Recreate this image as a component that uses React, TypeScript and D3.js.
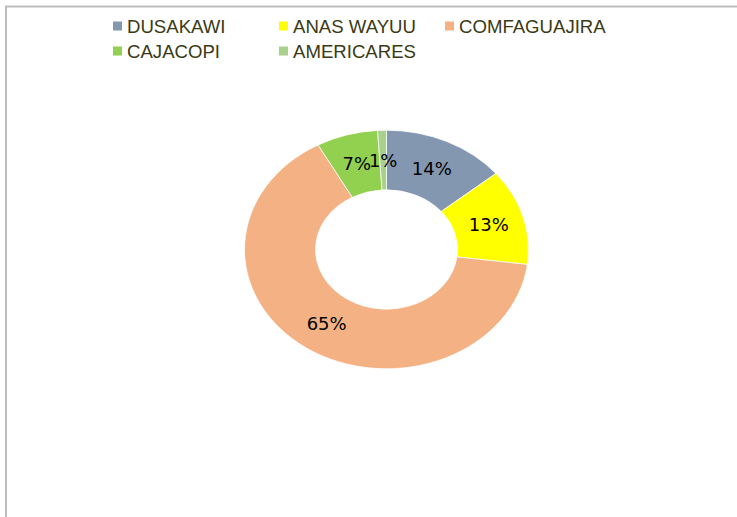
import React from 'react';
import * as d3 from 'd3';

// chart values
const categories = ['DUSAKAWI', 'ANAS WAYUU', 'COMFAGUAJIRA', 'CAJACOPI', 'AMERICARES'];
const shares = [14, 13, 65, 7, 1];
const labels = ['14%', '13%', '65%', '7%', '1%'];
const colors = ['#8497B0', '#FFFF00', '#F4B183', '#92D050', '#A9D18E'];

const W = 737;
const H = 517;

export default function App() {
  const cx = 386.5;
  const cy = 249.5;
  const rx = 142; // horizontal outer radius
  const squash = 0.84; // the donut is drawn as an ellipse
  const inner = 71;

  const pie = d3.pie<number>().sort(null).value(d => d);
  const arcs = pie(shares);
  const arc = d3.arc<d3.PieArcDatum<number>>().innerRadius(inner).outerRadius(rx);
  const labelArc = d3.arc<d3.PieArcDatum<number>>().innerRadius((inner + rx) / 2).outerRadius((inner + rx) / 2);

  // legend layout: 3 columns, 2 rows
  const colX = d3.scaleOrdinal<number, number>().domain([0, 1, 2]).range([113, 279, 445]);
  const rowY = d3.scaleOrdinal<number, number>().domain([0, 1]).range([26, 51]);

  return (
    <svg width={W} height={H} style={{ position: 'absolute', left: 0, top: 0, background: '#fff' }}>
      <rect x={6} y={6.5} width={W + 10} height={H + 10} fill="#fff" stroke="#bdbdbd" strokeWidth={2} />

      <g>
        {categories.map((c, i) => {
          const x = colX(i % 3);
          const y = rowY(Math.floor(i / 3));
          return (
            <g key={c} transform={`translate(${x},${y})`}>
              <rect x={0} y={-4.5} width={9} height={9} fill={colors[i]} />
              <text
                x={14}
                y={0}
                dy="0.36em"
                fontFamily="'Liberation Sans', Arial, sans-serif"
                fontSize={18.6}
                fill="#3a3a14"
              >
                {c}
              </text>
            </g>
          );
        })}
      </g>

      <g transform={`translate(${cx},${cy}) scale(1,${squash})`}>
        {arcs.map((a, i) => (
          <path key={categories[i]} d={arc(a) || ''} fill={colors[i]} stroke="#ffffff" strokeWidth={0.8} />
        ))}
      </g>

      <g transform={`translate(${cx},${cy})`}>
        {arcs.map((a, i) => {
          const [lx, ly] = labelArc.centroid(a);
          return (
            <text
              key={labels[i]}
              x={lx}
              y={ly * squash}
              dy="0.36em"
              textAnchor="middle"
              fontFamily="'DejaVu Sans', sans-serif"
              fontSize={18}
              fill="#000"
            >
              {labels[i]}
            </text>
          );
        })}
      </g>
    </svg>
  );
}
